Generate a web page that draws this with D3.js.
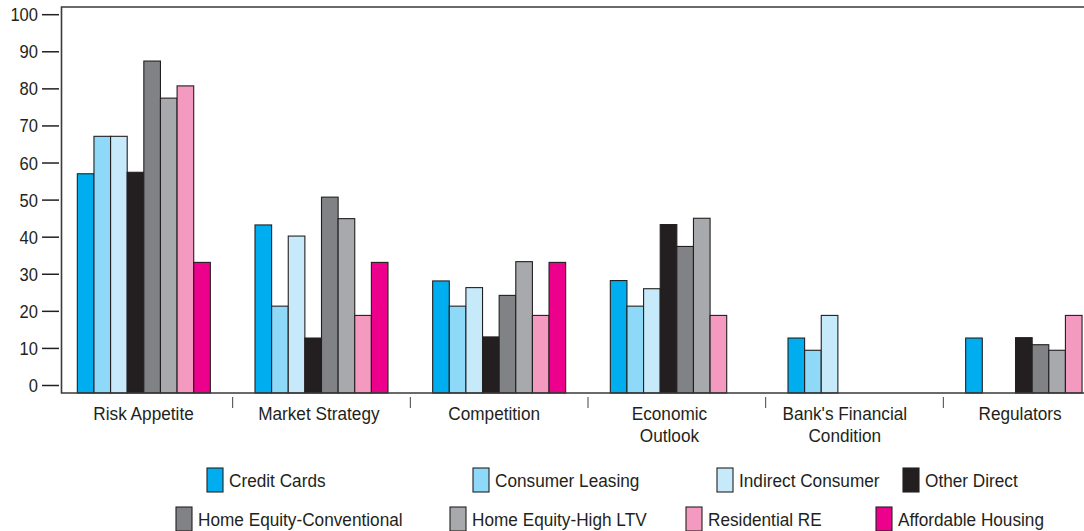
<!DOCTYPE html>
<html>
<head>
<meta charset="utf-8">
<script src="https://cdn.jsdelivr.net/npm/d3@7"></script>
<style>
  html, body { margin: 0; padding: 0; background: #ffffff; }
  svg { display: block; }
  text { font-family: "Liberation Sans", Arial, sans-serif; fill: #231f20; }
</style>
</head>
<body>
<svg id="chart" width="1084" height="531"></svg>
<script>
// ---- Data ----
const categories = ["Risk Appetite", "Market Strategy", "Competition", "Economic Outlook", "Bank's Financial Condition", "Regulators"];
const categoryLines = [["Risk Appetite"], ["Market Strategy"], ["Competition"], ["Economic", "Outlook"], ["Bank's Financial", "Condition"], ["Regulators"]];
const seriesNames = ["Credit Cards", "Consumer Leasing", "Indirect Consumer", "Other Direct", "Home Equity-Conventional", "Home Equity-High LTV", "Residential RE", "Affordable Housing"];

const creditCards        = [57.1, 43.3, 28.2, 28.3, 12.8, 12.8];
const consumerLeasing    = [67.2, 21.4, 21.4, 21.4, 9.5, null];
const indirectConsumer   = [67.2, 40.3, 26.4, 26.1, 18.9, null];
const otherDirect        = [57.5, 12.8, 13.1, 43.4, null, 12.9];
const homeEquityConv     = [87.5, 50.8, 24.3, 37.5, null, 11.0];
const homeEquityHighLTV  = [77.5, 45.0, 33.4, 45.1, null, 9.5];
const residentialRE      = [80.8, 18.9, 18.9, 18.9, null, 18.9];
const affordableHousing  = [33.2, 33.2, 33.2, null, null, null];

const yTickValues = [0, 10, 20, 30, 40, 50, 60, 70, 80, 90, 100];

// ---- Styles ----
const seriesColors = ["#00aeef", "#8ed8f8", "#c7eafb", "#231f20", "#808285", "#a7a9ac", "#f49ac1", "#ec008c"];

const seriesValues = [creditCards, consumerLeasing, indirectConsumer, otherDirect, homeEquityConv, homeEquityHighLTV, residentialRE, affordableHousing];

// ---- Layout ----
const svg = d3.select("#chart");
const frameLeft = 61.5, frameTop = 7, frameRight = 1084, frameBottom = 393;

const y = d3.scaleLinear().domain([0, 100]).range([385.5, 14.7]);
const x0 = d3.scaleBand().domain(categories).range([55, 1121]).padding(0);
const xLabel = d3.scaleBand().domain(categories).range([55.9, 1107.7]).padding(0);
const x1 = d3.scaleBand().domain(seriesNames).range([0, 133]).padding(0);

const ink = "#231f20";

// Bars
const groups = svg.append("g").selectAll("g")
  .data(categories)
  .join("g")
  .attr("transform", (c) => `translate(${x0(c) + x0.bandwidth() / 2 - 66.5},0)`);

groups.selectAll("rect")
  .data((c, ci) => seriesNames.map((s, si) => ({ s, si, v: seriesValues[si][ci] })).filter(d => d.v != null))
  .join("rect")
  .attr("x", d => x1(d.s))
  .attr("y", d => y(d.v))
  .attr("width", x1.bandwidth())
  .attr("height", d => frameBottom - y(d.v))
  .attr("fill", d => seriesColors[d.si])
  .attr("stroke", ink)
  .attr("stroke-width", 1.1);

// Frame
svg.append("path")
  .attr("d", `M${frameRight},${frameTop}H${frameLeft}V${frameBottom}H${frameRight}`)
  .attr("fill", "none")
  .attr("stroke", "#3a3a3a")
  .attr("stroke-width", 1.6);

// Y axis ticks
const yAxis = svg.append("g");
yTickValues.forEach(v => {
  yAxis.append("line")
    .attr("x1", 42).attr("x2", 59)
    .attr("y1", y(v)).attr("y2", y(v))
    .attr("stroke", ink).attr("stroke-width", 1.5);
  yAxis.append("text")
    .attr("transform", `translate(38,${y(v) + 6.5}) scale(0.92,1)`)
    .attr("text-anchor", "end")
    .style("font-size", "18px")
    .text(v);
});

// Category separators
categories.slice(1).forEach(c => {
  svg.append("line")
    .attr("x1", x0(c)).attr("x2", x0(c))
    .attr("y1", 397).attr("y2", 408)
    .attr("stroke", "#444").attr("stroke-width", 1);
});

// Category labels
categories.forEach((c, i) => {
  categoryLines[i].forEach((line, li) => {
    svg.append("text")
      .attr("transform", `translate(${xLabel(c) + xLabel.bandwidth() / 2},${420 + li * 22}) scale(0.93,1)`)
      .attr("text-anchor", "middle")
      .style("font-size", "18.5px")
      .text(line);
  });
});

// Legend
const legendRows = [
  { y: 468, xs: [207, 473, 717, 903] },
  { y: 507, xs: [176, 450, 686, 876] }
];
seriesNames.forEach((s, i) => {
  const row = legendRows[Math.floor(i / 4)];
  const lx = row.xs[i % 4];
  svg.append("rect")
    .attr("x", lx).attr("y", row.y)
    .attr("width", 16).attr("height", 24)
    .attr("fill", seriesColors[i])
    .attr("stroke", ink).attr("stroke-width", 1.1);
  svg.append("text")
    .attr("transform", `translate(${lx + 22},${row.y + 18.5}) scale(0.93,1)`)
    .style("font-size", "18.5px")
    .text(s);
});
</script>
</body>
</html>
